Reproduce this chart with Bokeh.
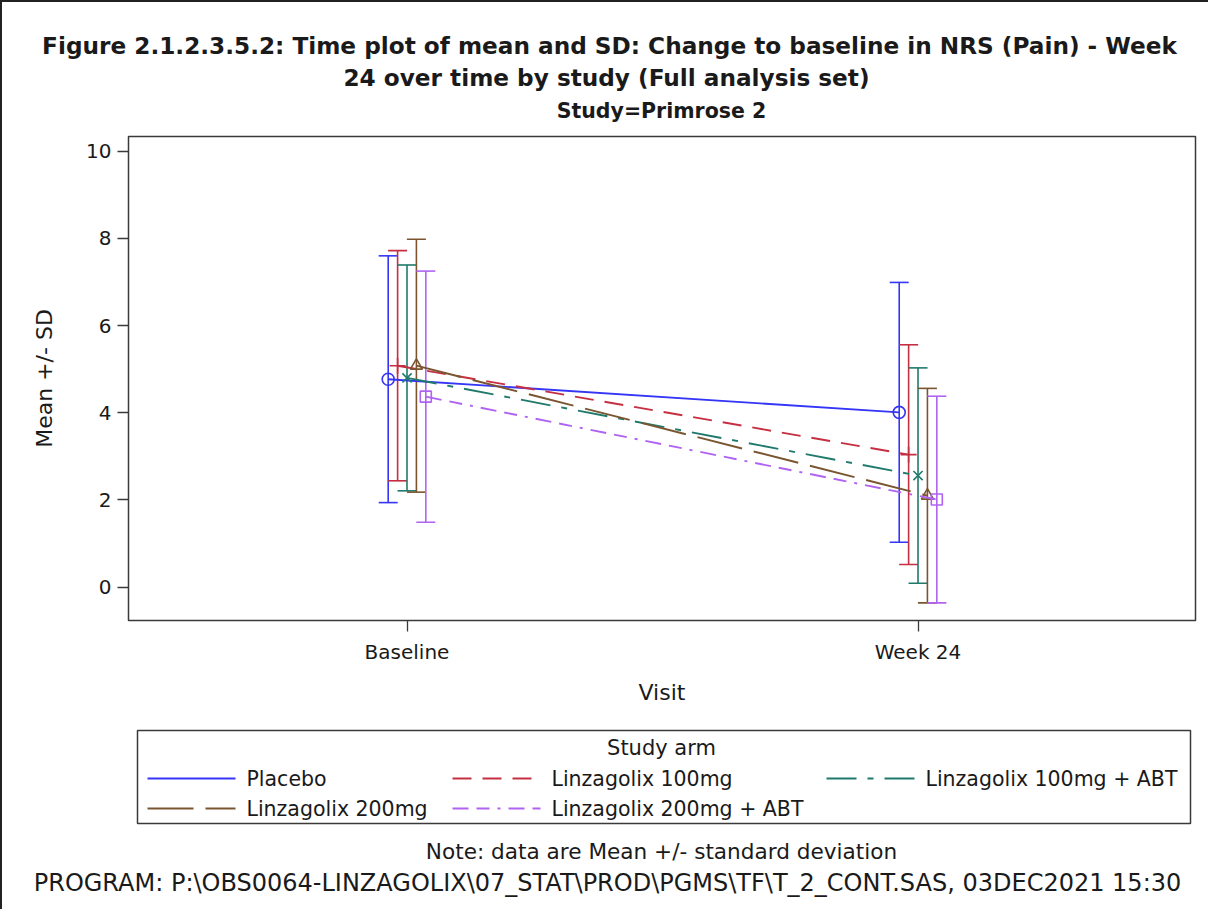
from bokeh.plotting import figure
from bokeh.layouts import column, row
from bokeh.models import (ColumnDataSource, Whisker, TeeHead, FixedTicker, Range1d)
from bokeh.core.properties import value
from bokeh.embed import file_html
from bokeh.resources import INLINE

# ---- data -------------------------------------------------------------
visits = ["Baseline", "Week 24"]
arms = ["Placebo", "Linzagolix 100mg", "Linzagolix 100mg + ABT",
        "Linzagolix 200mg", "Linzagolix 200mg + ABT"]

mean_placebo = [4.77, 4.01]
sd_placebo = [2.83, 2.98]
mean_l100 = [5.08, 3.04]
sd_l100 = [2.64, 2.52]
mean_l100_abt = [4.80, 2.56]
sd_l100_abt = [2.59, 2.47]
mean_l200 = [5.08, 2.10]
sd_l200 = [2.90, 2.46]
mean_l200_abt = [4.37, 2.01]
sd_l200_abt = [2.88, 2.37]

y_ticks = [0, 2, 4, 6, 8, 10]

means = [mean_placebo, mean_l100, mean_l100_abt, mean_l200, mean_l200_abt]
sds = [sd_placebo, sd_l100, sd_l100_abt, sd_l200, sd_l200_abt]

# ---- styling ----------------------------------------------------------
FONT = "DejaVu Sans"
INK = "#1a1a1a"
FRAME = "#3a3a3a"
colors = ["#3535f7", "#c62f42", "#1f7a6b", "#7a5530", "#b063f2"]
dashes = ["solid", "19 11", "30 11 6 11", "46 12", "16 8 13 8 3 8"]
markers = ["circle", "cross", "x", "triangle", "square"]
msizes = [12, 16, 13, 12, 11]
DODGE = 0.0184

# page geometry (pixels from the top-left of the page)
EDGE = 2                       # page border width
W = 1208 - EDGE                # figure width
HEAD_BOTTOM = 132              # header strip ends here
MAIN_BOTTOM = 708              # plot panel (with x axis) ends here
PAGE_BOTTOM = 909
FL, FR, FT, FB = 128, 1195, 136, 620   # plot frame edges


def strip(top, bottom):
    """A blank panel whose data coordinates equal page pixels."""
    f = figure(width=W, height=bottom - top, output_backend="svg",
               toolbar_location=None, x_axis_location=None, y_axis_location=None,
               x_range=Range1d(EDGE, 1208), y_range=Range1d(bottom, top),
               min_border=0, min_border_left=0, min_border_right=0,
               min_border_top=0, min_border_bottom=0)
    f.outline_line_color = None
    f.xgrid.visible = False
    f.ygrid.visible = False
    f.background_fill_color = "white"
    f.border_fill_color = "white"
    return f


def put_text(f, text, x, y, size, bold=False, align="center"):
    f.text(x=[x], y=[y], text=[text], text_font=value(FONT),
           text_font_size=size, text_font_style="bold" if bold else "normal",
           text_align=align, text_baseline="middle", text_color=INK)


# ---- header -----------------------------------------------------------
head = strip(EDGE, HEAD_BOTTOM)
put_text(head, "Figure 2.1.2.3.5.2: Time plot of mean and SD: Change to baseline in NRS (Pain) - Week",
         609, 45, "23.2px", bold=True)
put_text(head, "24 over time by study (Full analysis set)", 606, 77, "23.2px", bold=True)
put_text(head, "Study=Primrose 2", 661, 110, "20.5px", bold=True)

# ---- main plot --------------------------------------------------------
p = figure(width=W, height=MAIN_BOTTOM - HEAD_BOTTOM, output_backend="svg",
           toolbar_location=None,
           frame_width=FR - FL, frame_height=FB - FT,
           x_range=Range1d(-0.545, 1.543), y_range=Range1d(-0.764, 10.337),
           min_border_left=FL - EDGE, min_border_right=1208 - FR,
           min_border_top=FT - HEAD_BOTTOM, min_border_bottom=MAIN_BOTTOM - FB)
p.background_fill_color = "white"
p.border_fill_color = "white"
p.outline_line_color = FRAME
p.outline_line_width = 1.5
p.xgrid.visible = False
p.ygrid.visible = False

for i, arm in enumerate(arms):
    xs = [j + (i - 2) * DODGE for j in range(len(visits))]
    lo = [m - s for m, s in zip(means[i], sds[i])]
    hi = [m + s for m, s in zip(means[i], sds[i])]
    src = ColumnDataSource(dict(x=xs, mean=means[i], lower=lo, upper=hi))
    c = colors[i]
    p.add_layout(Whisker(source=src, base="x", lower="lower", upper="upper",
                         line_color=c, line_width=1.6,
                         upper_head=TeeHead(size=19, line_color=c, line_width=1.6),
                         lower_head=TeeHead(size=19, line_color=c, line_width=1.6)))
    p.line("x", "mean", source=src, line_color=c, line_width=1.9,
           line_dash=dashes[i])
    p.scatter("x", "mean", source=src, marker=markers[i], size=msizes[i],
              line_color=c, fill_color=None, line_width=1.6)

for ax in (p.xaxis[0], p.yaxis[0]):
    ax.axis_line_color = None
    ax.major_tick_line_color = FRAME
    ax.major_tick_line_width = 1.3
    ax.major_tick_out = 11
    ax.major_tick_in = 0
    ax.minor_tick_line_color = None
    ax.major_label_text_font = FONT
    ax.major_label_text_font_size = "20px"
    ax.major_label_text_color = INK
    ax.axis_label_text_font = FONT
    ax.axis_label_text_font_size = "22px"
    ax.axis_label_text_font_style = "normal"
    ax.axis_label_text_color = INK

p.xaxis.ticker = FixedTicker(ticks=list(range(len(visits))))
p.xaxis.major_label_overrides = {i: v for i, v in enumerate(visits)}
p.xaxis.axis_label = "Visit"
p.xaxis.major_label_standoff = 8
p.xaxis.axis_label_standoff = 13

p.yaxis.ticker = FixedTicker(ticks=y_ticks)
p.yaxis.axis_label = "Mean +/- SD"
p.yaxis.major_label_standoff = 6
p.yaxis.axis_label_standoff = 26

# ---- footer: legend and notes ----------------------------------------
foot = strip(MAIN_BOTTOM, PAGE_BOTTOM)
foot.quad(left=[137], right=[1190], top=[730], bottom=[823],
          fill_color=None, line_color=FRAME, line_width=1.5)
put_text(foot, "Study arm", 661, 747, "21px")

legend_slots = [(147, 778), (452, 778), (826, 778), (147, 808), (452, 808)]
GLYPH_W = 88
for i, arm in enumerate(arms):
    gx, gy = legend_slots[i]
    foot.line(x=[gx, gx + GLYPH_W], y=[gy, gy], line_color=colors[i],
              line_width=1.9, line_dash=dashes[i])
    put_text(foot, arm, gx + GLYPH_W + 11, gy, "20.5px", align="left")

put_text(foot, "Note: data are Mean +/- standard deviation", 661, 851, "21.6px")
put_text(foot, "PROGRAM: P:\\OBS0064-LINZAGOLIX\\07_STAT\\PROD\\PGMS\\TF\\T_2_CONT.SAS, 03DEC2021 15:30",
         607, 882, "24px")

layout = column(head, row(p), foot, spacing=0,
                styles={"border-left": f"{EDGE}px solid #222222",
                        "border-top": f"{EDGE}px solid #222222"})

open("out.html", "w").write(file_html(layout, INLINE))
